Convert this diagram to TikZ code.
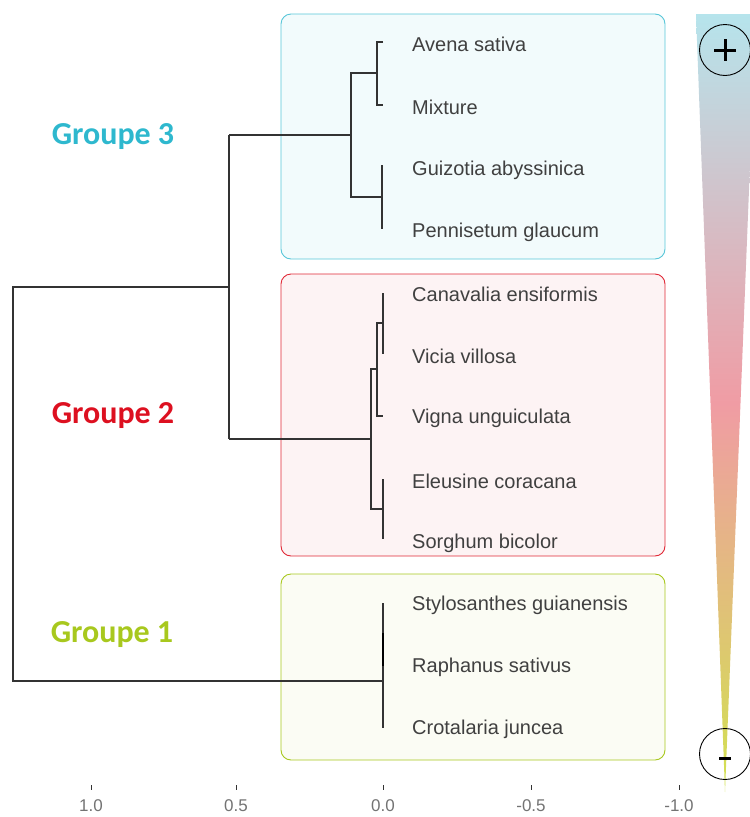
\documentclass[tikz,border=0pt]{standalone}
\usepackage{fontspec}
\setmainfont{Liberation Sans}
\newfontfamily\grpfont{Carlito}
\begin{document}
\begin{tikzpicture}[x=1pt,y=-1pt,
  dend/.style={draw=black!80,line width=1.3pt},
  leaf/.style={anchor=west,inner sep=0pt,font=\fontsize{20}{23}\selectfont,text=black!75},
  grp/.style={font=\grpfont\bfseries\fontsize{32}{36}\selectfont,inner sep=0pt},
  gbox/.style={rounded corners=10pt,line width=0.9pt},
  axlab/.style={font=\fontsize{17}{19}\selectfont,text=black!55,inner sep=0pt},
  tick/.style={draw=black!80,line width=1pt},
  sign/.style={draw=black,line width=0.9pt,circle,minimum size=51pt,inner sep=0pt},
  bar/.style={line width=3pt}]
\useasboundingbox (0,0) rectangle (750,817);
\definecolor{c3}{HTML}{2EB8CE}
\definecolor{c2}{HTML}{DD1020}
\definecolor{c1}{HTML}{A8C81E}
% group boxes
\draw[gbox,draw=c3!80,fill=c3!6] (281,14) rectangle (665,259);
\draw[gbox,draw=c2!90,fill=c2!5] (281,274) rectangle (665,556);
\draw[gbox,draw=c1,fill=c1!5] (281,574) rectangle (665,760);
% gradient triangle
\begin{scope}
\clip (696,14) -- (756,14) -- (725,792) -- cycle;
\shade[top color={rgb,255:red,182;green,228;blue,236},bottom color={rgb,255:red,210;green,226;blue,80},middle color={rgb,255:red,240;green,156;blue,164}] (690,14) rectangle (760,792);
\end{scope}
\node[sign] (plus) at (725,50) {};
\draw[bar] (714,50) -- (736,50) (725,39) -- (725,61);
\node[sign] (minus) at (725,754) {};
\draw[bar] (719,758) -- (731,758);
% leaves
\foreach \n/\y/\t in {a/44/Avena sativa,b/107/Mixture,c/170/Guizotia abyssinica,d/232/Pennisetum glaucum,e/294/Canavalia ensiformis,f/356/Vicia villosa,g/418/Vigna unguiculata,h/481/Eleusine coracana,i/543/Sorghum bicolor,j/605/Stylosanthes guianensis,k/667/Raphanus sativus,l/729/Crotalaria juncea}
  \node[leaf] (\n) at (412,\y) {\t};
% dendrogram group 3
\draw[dend] (383,42) -- (377,42) -- (377,105) -- (383,105);
\draw[dend] (383,166) -- (382,166) -- (382,228) -- (383,228);
\draw[dend] (377,73) -- (351,73) -- (351,197) -- (382,197);
\draw[dend] (351,135) -- (229,135);
% group 2
\draw[dend] (383,293) -- (383,354);
\draw[dend] (383,323) -- (377,323) -- (377,416) -- (383,416);
\draw[dend] (383,479) -- (383,539);
\draw[dend] (377,369) -- (371,369) -- (371,509) -- (383,509);
\draw[dend] (371,439) -- (229,439);
% main
\draw[dend] (229,135) -- (229,439);
\draw[dend] (229,287) -- (13,287) -- (13,681) -- (383,681);
% group 1
\draw[dend] (383,603) -- (383,728);
\draw[draw=black,line width=2.4pt] (383,633) -- (383,666);
% group labels
\node[grp,text=c3] (g3) at (113,137) {Groupe 3};
\node[grp,text=c2] (g2) at (113,416) {Groupe 2};
\node[grp,text=c1] (g1) at (112,635) {Groupe 1};
% axis
\foreach \x/\l in {91/1.0,236/0.5,383/0.0,531/-0.5,679/-1.0}{
  \draw[tick] (\x,785) -- (\x,790);
  \node[axlab] at (\x,806) {\l};
}
\end{tikzpicture}
\end{document}
